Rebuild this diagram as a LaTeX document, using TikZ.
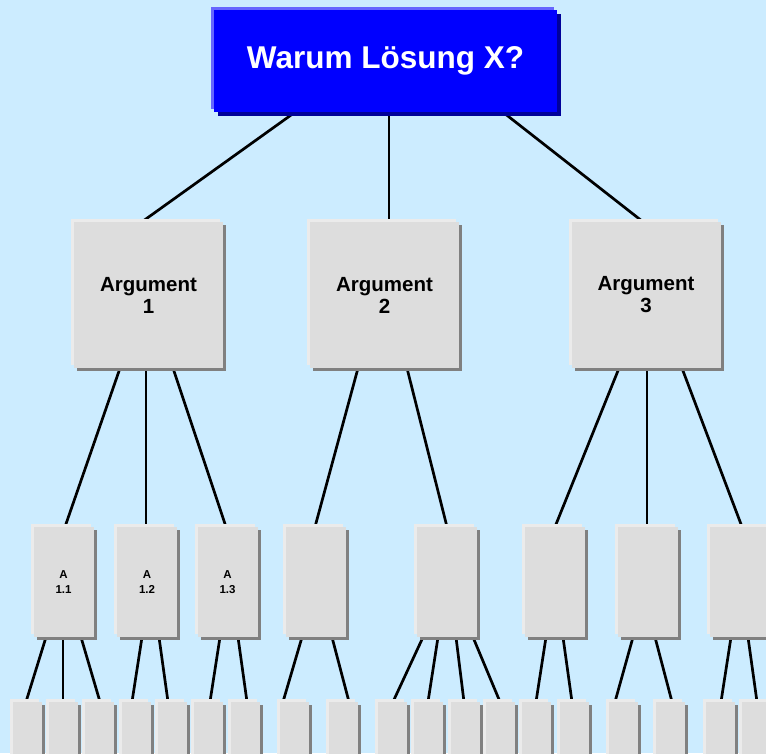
\documentclass[tikz,border=0pt]{standalone}
\usepackage{fontspec}
\setmainfont{Liberation Sans}
\usetikzlibrary{shadows,backgrounds}
\definecolor{bgblue}{HTML}{CCECFF}
\definecolor{facegray}{HTML}{DDDDDD}
\definecolor{lightgray2}{HTML}{EBEBEB}
\definecolor{darkgray2}{HTML}{808080}
\definecolor{faceblue}{HTML}{0000FF}
\definecolor{lightblue2}{HTML}{6666FF}
\definecolor{darkblue2}{HTML}{000099}
\tikzset{
  graybox/.style={fill=facegray, draw=none, inner sep=0pt, align=center,
    general shadow={fill=lightgray2, shadow xshift=-3pt, shadow yshift=3pt},
    general shadow={fill=darkgray2, shadow xshift=3pt, shadow yshift=-3pt}},
  argbox/.style={graybox, minimum width=149pt, minimum height=146pt,
    font=\bfseries\fontsize{20.5}{22}\selectfont},
  subbox/.style={graybox, minimum width=60pt, minimum height=110pt,
    font=\bfseries\fontsize{11.5}{15}\selectfont},
  leafbox/.style={graybox, minimum width=29pt, minimum height=90pt},
  titlebox/.style={fill=faceblue, draw=none, inner sep=0pt, text=white,
    minimum width=343pt, minimum height=102pt,
    font=\bfseries\fontsize{31.5}{36}\selectfont,
    general shadow={fill=lightblue2, shadow xshift=-3pt, shadow yshift=3pt},
    general shadow={fill=darkblue2, shadow xshift=4pt, shadow yshift=-4pt}},
  conn/.style={draw=black, line width=2.7pt}
}
\begin{document}
\begin{tikzpicture}[x=1pt,y=-1pt]
\useasboundingbox (0,0) rectangle (766,753);
\clip (0,0) rectangle (766,753);
% nodes
\node[titlebox] (top) at (385.5,61) {Warum Lösung X?};
\node[argbox] (arg1) at (148.5,295) {Argument\\1};
\node[argbox] (arg2) at (384.5,295) {Argument\\2};
\node[argbox] (arg3) at (646,295) {Argument\\3};
\node[subbox] (s1) at (63.5,582) {A\\1.1};
\node[subbox] (s2) at (147,582) {A\\1.2};
\node[subbox] (s3) at (227.5,582) {A\\1.3};
\node[subbox] (s4) at (316,582) {};
\node[subbox] (s5) at (447,582) {};
\node[subbox] (s6) at (555,582) {};
\node[subbox] (s7) at (648,582) {};
\node[subbox] (s8) at (740,582) {};
\node[leafbox] (b1) at (27.5,747) {};
\node[leafbox] (b2) at (63.5,747) {};
\node[leafbox] (b3) at (99,747) {};
\node[leafbox] (b4) at (136.5,747) {};
\node[leafbox] (b5) at (172.5,747) {};
\node[leafbox] (b6) at (208.5,747) {};
\node[leafbox] (b7) at (245,747) {};
\node[leafbox] (b8) at (294.5,747) {};
\node[leafbox] (b9) at (343,747) {};
\node[leafbox] (b10) at (392,747) {};
\node[leafbox] (b11) at (428,747) {};
\node[leafbox] (b12) at (465,747) {};
\node[leafbox] (b13) at (500.5,747) {};
\node[leafbox] (b14) at (536.5,747) {};
\node[leafbox] (b15) at (574,747) {};
\node[leafbox] (b16) at (623,747) {};
\node[leafbox] (b17) at (670,747) {};
\node[leafbox] (b18) at (720.5,747) {};
\node[leafbox] (b19) at (756.5,747) {};
\begin{pgfonlayer}{background}
\fill[bgblue] (0,0) rectangle (766,753);
% level 1
\draw[conn] ([xshift=-90.5pt]top.south) -- ([xshift=-6.5pt]arg1.north);
\draw[conn] ([xshift=3.5pt]top.south) -- ([xshift=4.5pt]arg2.north);
\draw[conn] ([xshift=117.5pt]top.south) -- ([xshift=-3pt]arg3.north);
% level 2
\draw[conn] ([xshift=-28.5pt]arg1.south) -- ([xshift=1.5pt]s1.north);
\draw[conn] ([xshift=-2.5pt]arg1.south) -- ([xshift=-1pt]s2.north);
\draw[conn] ([xshift=24.5pt]arg1.south) -- ([xshift=-1.5pt]s3.north);
\draw[conn] ([xshift=-26.5pt]arg2.south) -- ([xshift=-1pt]s4.north);
\draw[conn] ([xshift=22.5pt]arg2.south) -- ([xshift=0pt]s5.north);
\draw[conn] ([xshift=-27pt]arg3.south) -- ([xshift=0pt]s6.north);
\draw[conn] ([xshift=1pt]arg3.south) -- ([xshift=-1pt]s7.north);
\draw[conn] ([xshift=36pt]arg3.south) -- ([xshift=2pt]s8.north);
% level 3
\draw[conn] ([xshift=-17.5pt]s1.south) -- ([xshift=-1.5pt]b1.north);
\draw[conn] ([xshift=-0.5pt]s1.south) -- ([xshift=-0.5pt]b2.north);
\draw[conn] ([xshift=17.5pt]s1.south) -- ([xshift=1pt]b3.north);
\draw[conn] ([xshift=-5pt]s2.south) -- ([xshift=-4.5pt]b4.north);
\draw[conn] ([xshift=12pt]s2.south) -- ([xshift=-4.5pt]b5.north);
\draw[conn] ([xshift=-7.5pt]s3.south) -- ([xshift=1.5pt]b6.north);
\draw[conn] ([xshift=10.5pt]s3.south) -- ([xshift=2pt]b7.north);
\draw[conn] ([xshift=-14pt]s4.south) -- ([xshift=-11.5pt]b8.north);
\draw[conn] ([xshift=16pt]s4.south) -- ([xshift=6pt]b9.north);
\draw[conn] ([xshift=-24pt]s5.south) -- ([xshift=1pt]b10.north);
\draw[conn] ([xshift=-9pt]s5.south) -- ([xshift=0pt]b11.north);
\draw[conn] ([xshift=9pt]s5.south) -- ([xshift=-1pt]b12.north);
\draw[conn] ([xshift=26pt]s5.south) -- ([xshift=-0.5pt]b13.north);
\draw[conn] ([xshift=-9pt]s6.south) -- ([xshift=-0.5pt]b14.north);
\draw[conn] ([xshift=8pt]s6.south) -- ([xshift=-2pt]b15.north);
\draw[conn] ([xshift=-15pt]s7.south) -- ([xshift=-8pt]b16.north);
\draw[conn] ([xshift=7pt]s7.south) -- ([xshift=2pt]b17.north);
\draw[conn] ([xshift=-9pt]s8.south) -- ([xshift=0.5pt]b18.north);
\draw[conn] ([xshift=8pt]s8.south) -- ([xshift=0.5pt]b19.north);
\end{pgfonlayer}
\end{tikzpicture}
\end{document}
